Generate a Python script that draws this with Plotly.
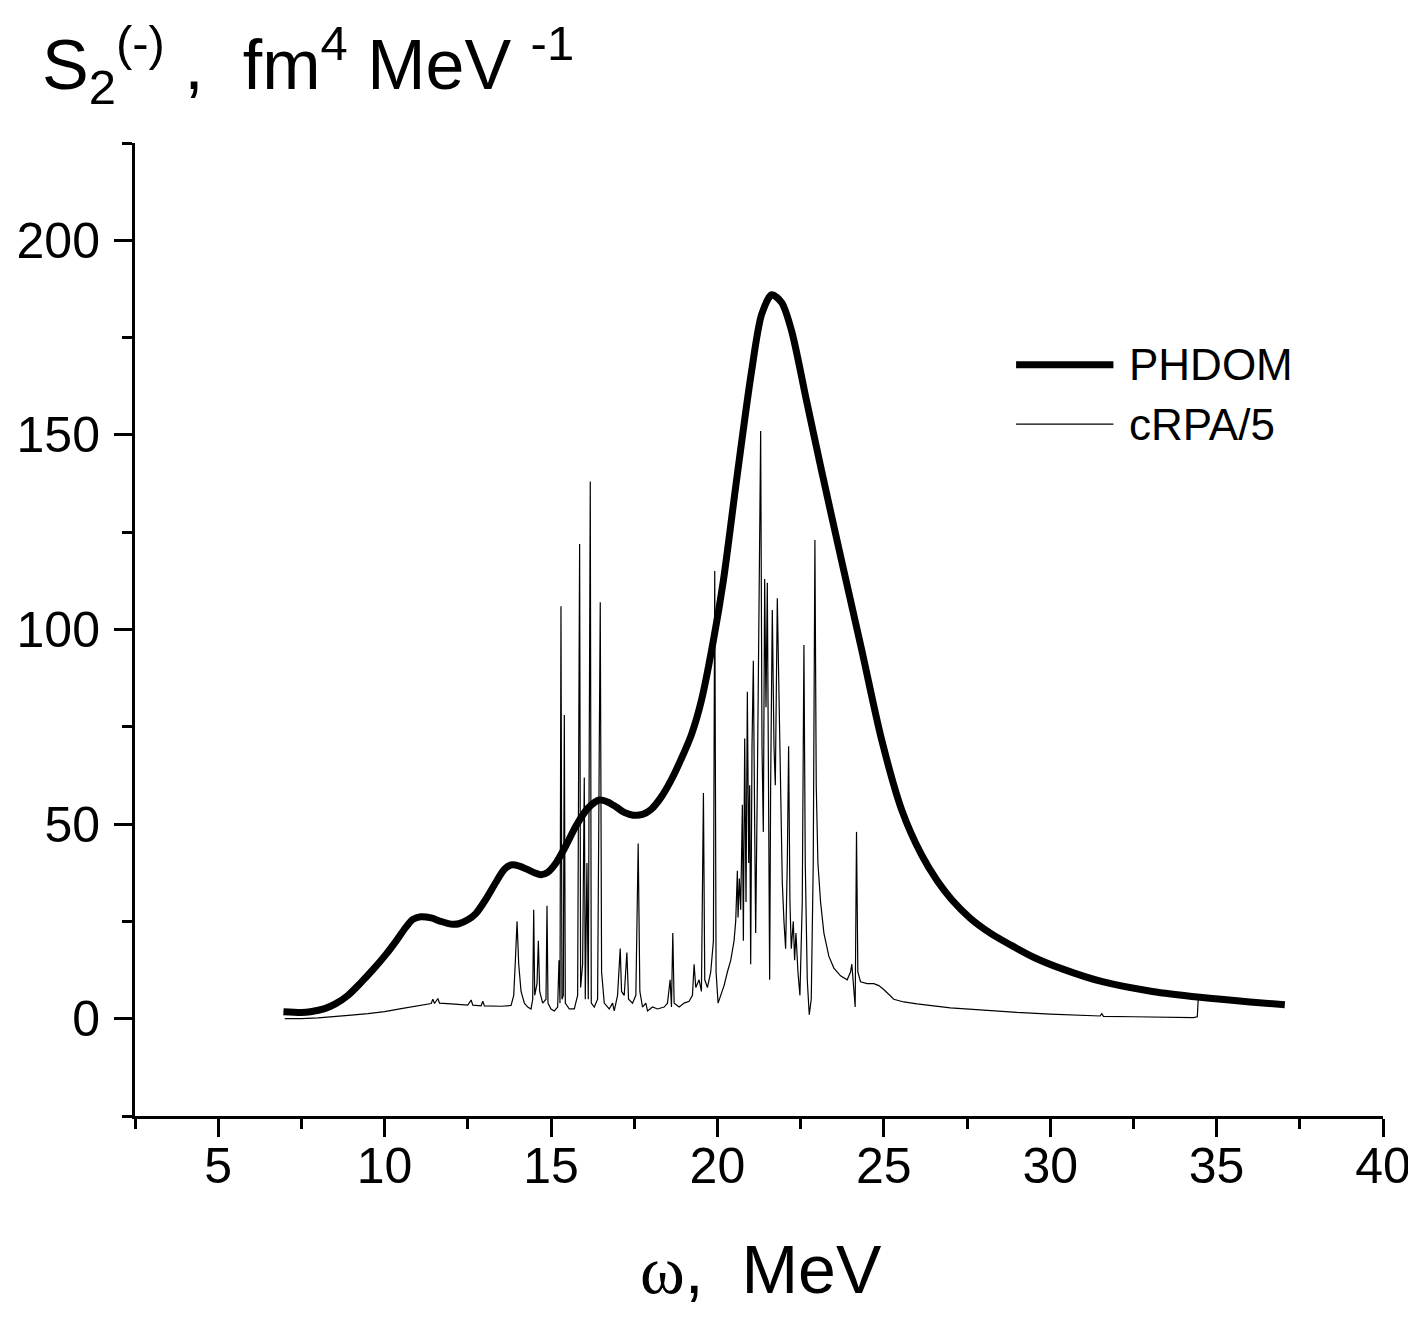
import plotly.graph_objects as go

# ---- PHDOM curve ----
phdom_x = [6.96, 7.5, 7.77, 8.2, 8.52, 8.9, 9.28, 9.65, 10.03, 10.35, 10.63, 10.85, 11.08,
           11.4, 11.69, 12.0, 12.23, 12.5, 12.74, 13.05, 13.34, 13.6, 13.8, 14.05, 14.25,
           14.5, 14.7, 14.9, 15.15, 15.45, 15.75, 16.1, 16.45, 16.7, 16.96, 17.2, 17.47,
           17.75, 18.01, 18.3, 18.61, 18.9, 19.22, 19.52, 19.88, 20.18, 20.57, 21.02,
           21.33, 21.63, 21.93, 22.23, 22.68, 23.13, 23.73, 24.34, 24.94, 25.54, 26.14,
           26.6, 27.05, 27.6, 28.2, 28.8, 29.5, 30.36, 31.57, 33.07, 34.5, 36.0, 37.05]
phdom_y = [1.8, 1.6, 1.8, 2.6, 3.8, 6.0, 9.2, 12.6, 16.4, 20.0, 23.4, 25.5, 26.2,
           25.9, 25.0, 24.3, 24.4, 25.4, 27.0, 30.8, 35.0, 38.4, 39.5, 39.2, 38.5,
           37.5, 37.0, 37.6, 40.0, 44.5, 49.5, 54.0, 56.2, 55.7, 54.4, 53.0, 52.3,
           52.5, 53.8, 56.8, 61.3, 66.5, 73.0, 81.8, 97.2, 112.6, 138.0, 166.0,
           181.0, 186.0, 184.0, 176.7, 158.7, 140.8, 117.7, 94.6, 71.5, 53.6, 42.0,
           35.5, 30.5, 25.8, 22.0, 19.0, 15.8, 12.8, 9.5, 7.0, 5.5, 4.3, 3.6]

# ---- cRPA/5 curve ----
crpa_x = [7.0, 7.5, 8.0, 8.5, 9.0, 9.5, 10.0, 10.5, 11.0, 11.4, 11.45, 11.5, 11.6, 11.65,
          12.0, 12.5, 12.6, 12.65, 12.9, 12.95, 13.0, 13.5, 13.8, 13.88, 13.93, 13.98,
          14.03, 14.1, 14.2, 14.3, 14.4, 14.45, 14.48, 14.51, 14.58, 14.62, 14.66, 14.75,
          14.85, 14.88, 14.91, 15.0, 15.1, 15.2, 15.24, 15.27, 15.3, 15.33, 15.37, 15.4,
          15.43, 15.55, 15.7, 15.8, 15.86, 15.89, 15.95, 16.0, 16.03, 16.08, 16.12, 16.18,
          16.21, 16.3, 16.4, 16.48, 16.52, 16.6, 16.75, 16.85, 16.9, 17.0, 17.08, 17.12,
          17.2, 17.28, 17.33, 17.45, 17.55, 17.62, 17.67, 17.75, 17.85, 17.9, 18.05, 18.2,
          18.4, 18.5, 18.58, 18.62, 18.66, 18.7, 18.85, 19.0, 19.15, 19.25, 19.3, 19.35,
          19.45, 19.52, 19.58, 19.62, 19.7, 19.8, 19.88, 19.92, 19.96, 20.02, 20.1, 20.2,
          20.3, 20.4, 20.5, 20.55, 20.6, 20.62, 20.66, 20.7, 20.75, 20.78, 20.82, 20.86,
          20.9, 20.94, 20.97, 21.0, 21.04, 21.08, 21.12, 21.15, 21.2, 21.26, 21.3, 21.34,
          21.38, 21.42, 21.46, 21.5, 21.54, 21.57, 21.6, 21.65, 21.7, 21.74, 21.8, 21.85,
          21.9, 21.95, 22.0, 22.05, 22.1, 22.14, 22.18, 22.22, 22.28, 22.32, 22.36, 22.42,
          22.48, 22.55, 22.6, 22.64, 22.7, 22.76, 22.82, 22.88, 22.93, 22.97, 23.02, 23.1,
          23.2, 23.35, 23.5, 23.7, 23.9, 24.0, 24.04, 24.08, 24.14, 24.18, 24.22, 24.3,
          24.5, 24.7, 24.85, 25.0, 25.3, 25.6, 26.0, 27.0, 28.0, 29.0, 30.0, 31.0, 31.5,
          31.55, 31.6, 32.5, 34.3, 34.42, 34.45]
crpa_y = [0.0, 0.0, 0.2, 0.5, 0.9, 1.3, 1.8, 2.6, 3.4, 3.9, 5.0, 3.9, 5.2, 4.0,
          3.8, 3.5, 4.8, 3.5, 3.3, 4.5, 3.3, 3.2, 3.4, 6.0, 15.0, 25.0,
          14.0, 7.0, 4.0, 3.0, 2.5, 5.0, 28.0, 6.0, 9.0, 20.0, 7.0, 4.0,
          5.0, 29.0, 4.0, 2.5, 2.0, 3.0, 15.0, 4.0, 106.0, 5.0, 6.0, 78.0,
          4.0, 2.5, 2.5, 6.0, 122.0, 8.0, 14.0, 62.0, 5.0, 40.0, 5.0, 138.0,
          4.0, 3.0, 5.0, 107.0, 12.0, 4.0, 2.5, 4.0, 2.0, 6.0, 18.0, 7.0,
          6.0, 17.0, 5.0, 4.0, 6.0, 45.0, 7.0, 3.0, 4.0, 2.0, 3.0, 2.5,
          3.0, 4.0, 10.0, 3.0, 22.0, 4.0, 3.0, 4.0, 4.5, 6.0, 14.0, 8.0,
          10.0, 7.0, 58.0, 10.0, 8.0, 12.0, 20.0, 115.0, 12.0, 4.0, 6.0, 8.5,
          12.0, 15.0, 20.0, 25.0, 38.0, 26.0, 36.0, 28.0, 55.0, 20.0, 72.0, 30.0,
          84.0, 40.0, 60.0, 14.0, 70.0, 92.0, 50.0, 22.0, 60.0, 110.0, 151.0, 70.0,
          48.0, 113.0, 80.0, 112.0, 40.0, 10.0, 60.0, 105.0, 70.0, 60.0, 108.0, 85.0,
          55.0, 35.0, 25.0, 18.0, 40.0, 70.0, 30.0, 18.0, 25.0, 15.0, 22.0, 12.0,
          6.0, 30.0, 96.0, 40.0, 10.0, 1.0, 5.0, 40.0, 123.0, 60.0, 40.0, 30.0,
          22.0, 16.0, 13.0, 11.0, 10.0, 12.0, 14.0, 9.0, 3.0, 48.0, 12.0, 9.5,
          9.0, 9.0, 8.5, 7.5, 5.0, 4.3, 3.8, 2.8, 2.2, 1.6, 1.2, 0.8, 0.7,
          1.3, 0.6, 0.5, 0.3, 0.5, 5.5]

x_tickvals = [5, 10, 15, 20, 25, 30, 35, 40]
y_tickvals = [0, 50, 100, 150, 200]

FONT = "Liberation Sans, Arial, sans-serif"
NB = "\u00a0"

fig = go.Figure()
fig.add_trace(go.Scatter(x=crpa_x, y=crpa_y, mode="lines", name="cRPA/5",
                         line=dict(color="black", width=1.2), showlegend=False))
fig.add_trace(go.Scatter(x=phdom_x, y=phdom_y, mode="lines", name="PHDOM",
                         line=dict(color="black", width=7, shape="spline", smoothing=0.8),
                         showlegend=False))

axis_common = dict(showgrid=False, zeroline=False, showline=True, linecolor="black",
                   linewidth=3, ticks="outside", tickcolor="black", tickwidth=3,
                   automargin=False,
                   tickfont=dict(family=FONT, size=50, color="black"), mirror=False)

fig.update_xaxes(range=[2.5, 40], tickvals=x_tickvals, ticklen=18, ticklabelstandoff=-14,
                 minor=dict(dtick=2.5, tick0=0, ticks="outside", ticklen=10,
                            tickwidth=3, tickcolor="black"),
                 **axis_common)
fig.update_yaxes(range=[-25, 225], tickvals=y_tickvals, ticklen=18,
                 ticklabelstandoff=4,
                 minor=dict(dtick=25, tick0=0, ticks="outside", ticklen=10,
                            tickwidth=3, tickcolor="black"),
                 **axis_common)

# manual legend
fig.add_shape(type="line", xref="paper", yref="paper", x0=0.706, x1=0.784, y0=0.772, y1=0.772,
              line=dict(color="black", width=7))
fig.add_shape(type="line", xref="paper", yref="paper", x0=0.706, x1=0.784, y0=0.711, y1=0.711,
              line=dict(color="black", width=1.2))
fig.add_annotation(text="PHDOM", xref="paper", yref="paper", x=0.795, y=0.772,
                   xanchor="left", yanchor="middle", showarrow=False,
                   font=dict(family=FONT, size=44, color="black"))
fig.add_annotation(text="cRPA/5", xref="paper", yref="paper", x=0.795, y=0.711,
                   xanchor="left", yanchor="middle", showarrow=False,
                   font=dict(family=FONT, size=44, color="black"))

# axis titles
ytitle = ("S<sub>2</sub><sup>(-)</sup>" + NB + "," + NB + NB + "fm<sup>4</sup>" + NB
          + "MeV" + NB + "<sup>-1</sup>")
fig.add_annotation(text=ytitle,
                   xref="paper", yref="paper", x=-0.076, y=1.080,
                   xanchor="left", yanchor="middle", showarrow=False,
                   font=dict(family=FONT, size=70, color="black"))
xtitle = ("<span style=\"font-family:'Liberation Serif', 'Times New Roman', serif\">ω</span>,"
          + NB + NB + "MeV")
fig.add_annotation(text=xtitle,
                   xref="paper", yref="paper", x=0.502, y=-0.158,
                   xanchor="center", yanchor="middle", showarrow=False,
                   font=dict(family=FONT, size=68, color="black"))

# page body has an 8px margin, so the figure is shifted by 8px; compensate
fig.update_layout(width=1408, height=1309, paper_bgcolor="white", plot_bgcolor="white",
                  margin=dict(l=127, r=33, t=135, b=201), showlegend=False)

fig.write_html("out.html")
